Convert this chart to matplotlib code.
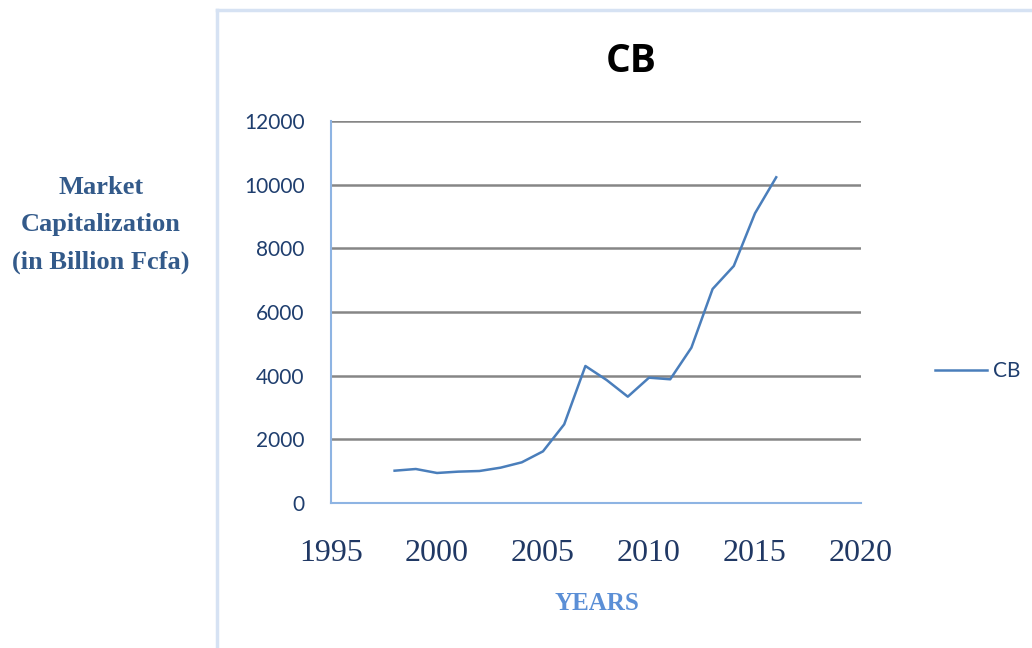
import matplotlib
matplotlib.use("Agg")
import matplotlib.pyplot as plt
from matplotlib.lines import Line2D

years = [1998, 1999, 2000, 2001, 2002, 2003, 2004, 2005, 2006, 2007,
         2008, 2009, 2010, 2011, 2012, 2013, 2014, 2015, 2016]
cb_values = [1015, 1068, 943, 985, 1005, 1110, 1278, 1623, 2471, 4304,
             3864, 3340, 3937, 3886, 4880, 6723, 7446, 9101, 10232]
x_ticks = [1995, 2000, 2005, 2010, 2015, 2020]
y_ticks = [0, 2000, 4000, 6000, 8000, 10000, 12000]

W, H = 1032, 648
fig = plt.figure(figsize=(W / 100, H / 100), dpi=100)
ax = fig.add_axes([331 / W, 1 - 503 / H, (861 - 331) / W, (503 - 121) / H])

ax.plot(years, cb_values, color="#4a7ebb", lw=1.8, label="CB")
ax.set_xlim(1995, 2020)
ax.set_ylim(0, 12000)
ax.set_xticks(x_ticks)
ax.set_yticks(y_ticks)
ax.set_xticklabels([str(v) for v in x_ticks], family="Liberation Serif",
                   fontsize=23, color="#203864")
ax.set_yticklabels([str(v) for v in y_ticks], family="Lato",
                   fontsize=15, color="#1f3e6e")
ax.tick_params(axis="x", length=0, pad=26)
ax.tick_params(axis="y", length=0, pad=19)
ax.grid(axis="y", color="#868686", lw=1.8)
ax.set_axisbelow(True)
for s in ["top", "right"]:
    ax.spines[s].set_visible(False)
for s in ["left", "bottom"]:
    ax.spines[s].set_color("#8eb4e3")
    ax.spines[s].set_linewidth(1.5)
ax.spines["left"].set_zorder(3)

# Title
fig.text(631 / W, 1 - 61 / H, "CB", ha="center", va="center",
         fontsize=28, fontweight="bold", family="Open Sans", color="black")

# Y label
fig.text(101 / W, 1 - 225 / H, "Market\nCapitalization\n(in Billion Fcfa)",
         ha="center", va="center", fontsize=19, fontweight="bold",
         family="Liberation Serif", color="#335a8a", linespacing=1.78)

# X label
fig.text(597 / W, 1 - 603 / H, "YEARS", ha="center", va="center",
         fontsize=18, fontweight="bold", family="Liberation Serif",
         color="#5b8fd6")

# Legend
leg = ax.legend(loc="center left", bbox_to_anchor=(935 / W, 1 - 371 / H),
                bbox_transform=fig.transFigure, frameon=False,
                borderaxespad=0, borderpad=0,
                prop={"family": "Lato", "size": 15}, handlelength=2.5,
                handletextpad=0.3, labelcolor="#1f3e6e")

# Outer frame lines (light blue)
fig.add_artist(Line2D([217 / W, 217 / W], [0, 1 - 10 / H],
                      transform=fig.transFigure, color="#d6e2f3", lw=2.5))
fig.add_artist(Line2D([217 / W, 1], [1 - 10 / H, 1 - 10 / H],
                      transform=fig.transFigure, color="#d6e2f3", lw=2.5))

fig.savefig("out.png", dpi=100)
